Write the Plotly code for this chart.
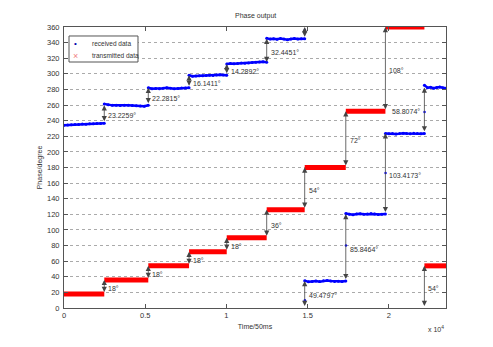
import numpy as np
import plotly.graph_objects as go

# Time at which each phase step occurs (samples of 50 ms), plus the end of the record
step_times = [0, 2480, 5190, 7700, 10020, 12480, 14820, 17350, 19790, 22190, 23520]

# Transmitted phase level on each interval (degrees)
transmitted_levels = [18, 36, 54, 72, 90, 126, 180, 252, 360, 54]

# Received phase readings on each interval (degrees)
received_s1 = [234.0, 234.3, 234.8, 235.0, 235.2, 235.6, 235.5, 235.9, 236.1, 236.3, 236.4, 236.6]
received_s2 = [261.5, 260.4, 259.6, 259.8, 259.3, 259.6, 259.9, 259.4, 259.1, 258.8, 258.6, 259.8]
received_s3 = [282.1, 281.0, 281.3, 281.0, 281.6, 282.2, 281.5, 281.0, 281.3, 281.7, 281.9, 282.1]
received_s4 = [298.2, 297.0, 297.3, 297.6, 297.5, 297.9, 298.2, 298.0, 298.4, 298.7, 298.5, 298.2]
received_s5 = [312.5, 313.2, 312.8, 313.3, 313.8, 313.5, 314.0, 314.4, 314.8, 315.2, 315.6, 315.0]
received_s6 = [345.5, 344.5, 345.0, 344.2, 345.3, 344.6, 343.8, 344.7, 345.2, 344.5, 345.0, 345.0]
received_s7 = [35.0, 33.5, 34.0, 34.6, 33.8, 34.9, 35.3, 34.5, 33.9, 34.2, 34.0, 34.5]
received_s8 = [121.0, 120.0, 119.6, 120.3, 120.8, 120.2, 120.5, 121.0, 120.4, 119.9, 120.2, 120.3]
received_s9 = [223.7, 223.2, 223.5, 223.0, 223.4, 224.0, 223.6, 223.3, 223.8, 223.5, 223.2, 223.7]
received_s10 = [285.5, 282.3, 282.8, 281.6, 282.5, 283.0, 282.2, 281.5]
received_segments = [received_s1, received_s2, received_s3, received_s4, received_s5,
                     received_s6, received_s7, received_s8, received_s9, received_s10]

# Isolated received samples caught during the transitions
transition_t = [14830, 14830, 17360, 19800, 22200]
transition_phase = [356, 10, 80, 173, 251]

# Phase differences annotated on the chart
received_steps = [23.2259, 22.2815, 16.1411, 14.2892, 32.4451, 49.4797, 85.8464, 103.4173, 58.8074]
transmitted_steps = [18, 18, 18, 18, 36, 54, 72, 108, 54]
received_start = 236.6

x_ticks = [0, 5000, 10000, 15000, 20000]
x_tick_labels = ["0", "0.5", "1", "1.5", "2"]

legend_names = ["received data", "transmitted data"]

FONT = "Liberation Sans Narrow, Liberation Sans, Arial, sans-serif"
TXT = "#333333"
FS = 7

# Build segmented line data (None breaks between intervals)
rx_x, rx_y = [], []
for i, vals in enumerate(received_segments):
    ts = np.linspace(step_times[i], step_times[i + 1], len(vals))
    rx_x += list(ts) + [None]
    rx_y += list(vals) + [None]

tx_x, tx_y = [], []
for i, lvl in enumerate(transmitted_levels):
    tx_x += [step_times[i], step_times[i + 1], None]
    tx_y += [lvl, lvl, None]

fig = go.Figure()
fig.add_trace(go.Scatter(x=rx_x, y=rx_y, mode="lines+markers", name=legend_names[0],
                         line=dict(color="#0000ff", width=2.5),
                         marker=dict(color="#0000ff", size=3),
                         showlegend=False, hoverinfo="skip"))
fig.add_trace(go.Scatter(x=transition_t, y=transition_phase, mode="markers",
                         marker=dict(color="#0000ff", size=2.5),
                         showlegend=False, hoverinfo="skip"))
fig.add_trace(go.Scatter(x=tx_x, y=tx_y, mode="lines", name=legend_names[1],
                         line=dict(color="#ff0000", width=5),
                         showlegend=False, hoverinfo="skip"))

annotations = []
shapes = []


def add_arrow(x, y0, y1):
    annotations.append(dict(x=x, y=y1, ax=x, ay=y0, xref="x", yref="y",
                            axref="x", ayref="y", text=" ", showarrow=True,
                            arrowside="end+start", arrowhead=2, startarrowhead=2,
                            arrowsize=1.3, startarrowsize=1.3, arrowwidth=0.8,
                            arrowcolor="#444444", standoff=0, startstandoff=0,
                            font=dict(size=1)))


def add_label(x, y, text, side="right"):
    annotations.append(dict(x=x, y=y, xref="x", yref="y", text=text, showarrow=False,
                            xanchor="left" if side == "right" else "right",
                            xshift=2 if side == "right" else -2,
                            font=dict(family=FONT, size=FS, color=TXT)))


# Received phase step arrows
level = received_start
for i, d in enumerate(received_steps):
    x = step_times[i + 1]
    top = level + d
    if top > 360:
        add_arrow(x, level, 360)
        top -= 360
        add_arrow(x, 0, top)
        add_label(x, top * 0.45, f"{d}°")
    else:
        add_arrow(x, level, top)
        side = "left" if i == 8 else "right"
        add_label(x, (level + top) / 2 - 2, f"{d}°", side)
    level = top

# Transmitted phase step arrows
for i, d in enumerate(transmitted_steps):
    x = step_times[i + 1]
    lo = transmitted_levels[i]
    hi = transmitted_levels[i + 1]
    if hi < lo:
        lo = 0
    add_arrow(x, lo, hi)
    add_label(x, (lo + hi) / 2 - 2, f"{d}°")

# Legend box in the upper-left corner of the axes
shapes.append(dict(type="rect", xref="paper", yref="paper",
                   x0=0.0131, x1=0.1937, y0=0.8754, y1=0.968,
                   line=dict(color="#555555", width=1), fillcolor="white", layer="above"))
legend_rows = [(0.943, "•", "#0000aa", 8), (0.897, "×", "#f08080", 9)]
for (ly, sym, col, sz), name in zip(legend_rows, legend_names):
    annotations.append(dict(x=0.0288, y=ly, xref="paper", yref="paper", text=sym,
                            showarrow=False, xanchor="center", yanchor="middle",
                            font=dict(family="Liberation Sans, Arial", size=sz, color=col)))
    annotations.append(dict(x=0.0680, y=ly, xref="paper", yref="paper", text=name,
                            showarrow=False, xanchor="left", yanchor="middle",
                            font=dict(family=FONT, size=6.5, color=TXT)))

annotations.append(dict(x=0.5, y=1.0, xref="paper", yref="paper", yshift=5,
                        text="Phase output", showarrow=False, yanchor="bottom",
                        font=dict(family=FONT, size=FS, color=TXT)))
annotations.append(dict(x=1.0, y=0, xref="paper", yref="paper", yshift=-15,
                        text="x 10<sup>4</sup>", showarrow=False, xanchor="right",
                        yanchor="top", font=dict(family=FONT, size=FS, color=TXT)))

fig.update_layout(
    width=493, height=347,
    margin=dict(l=64, r=47, t=27, b=39),
    paper_bgcolor="white", plot_bgcolor="white",
    font=dict(family=FONT, size=FS, color=TXT),
    annotations=annotations,
    shapes=shapes,
    showlegend=False,
    xaxis=dict(range=[0, 23520], tickvals=x_ticks, ticktext=x_tick_labels,
               ticks="inside", ticklen=4, tickcolor="#555555",
               showline=True, linecolor="#555555", linewidth=1, mirror="ticks",
               showgrid=False, zeroline=False, tickfont=dict(size=FS + 0.5),
               title=dict(text="Time/50ms", standoff=5,
                          font=dict(family=FONT, size=FS, color=TXT))),
    yaxis=dict(range=[0, 360], dtick=20, ticks="inside", ticklen=4,
               tickcolor="#555555", showline=True, linecolor="#555555", linewidth=1,
               mirror="ticks", showgrid=True, gridcolor="#aaaaaa", griddash="dot",
               gridwidth=1, zeroline=False, ticklabelstandoff=2, tickfont=dict(size=FS + 0.5),
               title=dict(text="Phase/degree", standoff=3,
                          font=dict(family=FONT, size=FS, color=TXT))),
)

fig.write_html("out.html")
